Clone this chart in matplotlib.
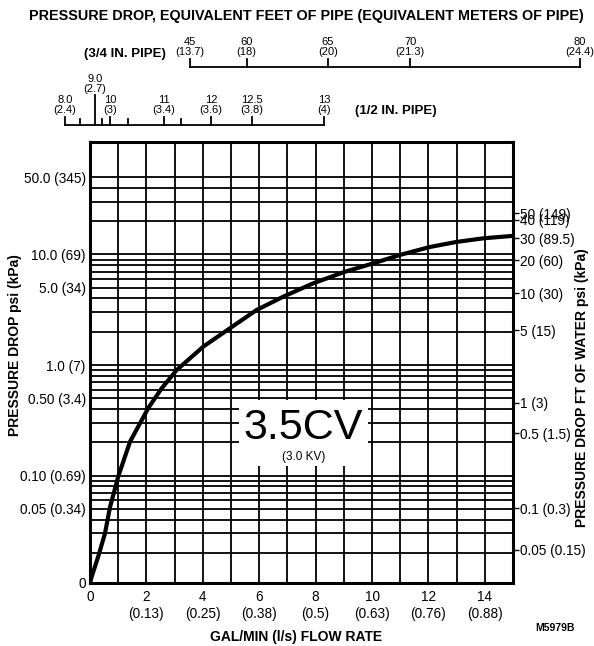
import matplotlib.pyplot as plt
from matplotlib.patches import Rectangle

plt.rcParams['font.family'] = ['Liberation Sans', 'DejaVu Sans']

# curve: flow (gpm) vs pressure drop (psi)
flow = [0, 0.06, 0.29, 0.53, 0.71, 1.0, 1.42, 2.07, 2.54, 3.07, 4.02, 4.96, 5.91,
        6.85, 7.92, 9.04, 10.05, 10.99, 12.06, 13.01, 13.95, 14.95]
dp = [0.0107, 0.0122, 0.0185, 0.030, 0.052, 0.098, 0.203, 0.41, 0.615, 0.90, 1.47,
      2.15, 3.15, 4.15, 5.49, 6.98, 8.32, 9.9, 11.7, 13.0, 14.0, 14.7]

# bottom axis
x_ticks = [0, 2, 4, 6, 8, 10, 12, 14]
x_labels = ['0', '2\n(0.13)', '4\n(0.25)', '6\n(0.38)', '8\n(0.5)', '10\n(0.63)',
            '12\n(0.76)', '14\n(0.88)']

# left axis (psi)
y_ticks = [0.0107, 0.05, 0.10, 0.50, 1.0, 5.0, 10.0, 50.0]
y_labels = ['0', '0.05 (0.34)', '0.10 (0.69)', '0.50 (3.4)', '1.0 (7)', '5.0 (34)',
            '10.0 (69)', '50.0 (345)']

# right axis: feet of water, placed at the psi level where they sit on the chart
ft_pos = [23.6, 20.5, 14.0, 8.91, 4.45, 2.07, 0.457, 0.241, 0.0507, 0.0213]
ft_labels = ['50 (149)', '40 (119)', '30 (89.5)', '20 (60)', '10 (30)', '5 (15)',
             '1 (3)', '0.5 (1.5)', '0.1 (0.3)', '0.05 (0.15)']

# horizontal grid levels (psi)
grid_psi = [0.02, 0.03, 0.04, 0.05, 0.06, 0.07, 0.08, 0.09,
            0.1, 0.2, 0.3, 0.4, 0.5, 0.6, 0.7, 0.8, 0.9,
            1, 2, 3, 4, 5, 6, 7, 8, 9,
            10, 20, 30, 40, 50]

# equivalent pipe scales, located on the flow axis (gpm)
pipe34_pos = [3.53, 5.55, 8.44, 11.35, 17.38]
pipe34_labels = ['45\n(13.7)', '60\n(18)', '65\n(20)', '70\n(21.3)', '80\n(24.4)']
pipe12_pos = [-0.89, 0.18, 0.71, 2.62, 4.29, 5.74, 8.30]
pipe12_labels = ['8.0\n(2.4)', '9.0\n(2.7)', '10\n(3)', '11\n(3.4)', '12\n(3.6)',
                 '12.5\n(3.8)', '13\n(4)']
pipe12_minor = [-0.35, 0.41, 1.35, 3.23]

fig = plt.figure(figsize=(5.94, 6.46), dpi=100)
ax = fig.add_axes([90/594, 63/646, 423/594, 441/646])
ax.set_yscale('log')
ax.set_xlim(0, 15)
ax.set_ylim(0.0107, 104)

for v in grid_psi:
    ax.axhline(v, color='black', lw=1.3, zorder=1)
for v in range(1, 15):
    ax.axvline(v, color='black', lw=1.3, zorder=1)

# white box for the Cv label
ax.add_patch(Rectangle((5.28, 0.123), 4.58, 0.48 - 0.123, facecolor='white',
                       edgecolor='none', zorder=2))
ax.text(7.57, 0.27, '3.5CV', fontsize=31, ha='center', va='center', zorder=4)
ax.text(7.57, 0.148, '(3.0 KV)', fontsize=8.5, ha='center', va='center', zorder=4)

ax.plot(flow, dp, color='black', lw=3, zorder=3, solid_capstyle='round')

for s in ax.spines.values():
    s.set_linewidth(2.2)

ax.set_xticks(x_ticks)
ax.set_xticklabels(x_labels, fontsize=9.8)
for t in ax.get_xticklabels():
    t.set_linespacing(1.3)
ax.tick_params(axis='x', length=0, pad=5)

ax.set_yticks(y_ticks)
ax.set_yticklabels(y_labels, fontsize=9.8)
ax.yaxis.set_minor_locator(plt.NullLocator())
ax.tick_params(axis='y', length=0, pad=3)

ax2 = ax.twinx()
ax2.set_yscale('log')
ax2.set_ylim(ax.get_ylim())
ax2.set_yticks(ft_pos)
ax2.set_yticklabels(ft_labels, fontsize=9.8)
ax2.yaxis.set_minor_locator(plt.NullLocator())
ax2.tick_params(axis='y', length=4, width=1, pad=1)
for s in ax2.spines.values():
    s.set_visible(False)

fig.text(296/594, 1 - 637/646, 'GAL/MIN (l/s) FLOW RATE', fontsize=10,
         fontweight='bold', ha='center', va='center')
fig.text(15/594, 1 - 345/646, 'PRESSURE DROP psi (kPa)', fontsize=10,
         fontweight='bold', ha='center', va='center', rotation=90)
fig.text(582/594, 1 - 388/646, 'PRESSURE DROP FT OF WATER psi (kPa)', fontsize=10,
         fontweight='bold', ha='center', va='center', rotation=90)
fig.text(555/594, 1 - 628/646, 'M5979B', fontsize=7.5, fontweight='bold',
         ha='center', va='center')
fig.text(306/594, 1 - 16/646, 'PRESSURE DROP, EQUIVALENT FEET OF PIPE (EQUIVALENT METERS OF PIPE)',
         fontsize=10.4, fontweight='bold', ha='center', va='center')

# top scales share the flow axis mapping, y in pixels from the figure top
top = fig.add_axes([90/594, 504/646, 423/594, 142/646])
top.set_xlim(0, 15)
top.set_ylim(142, 0)
top.axis('off')

y34 = 67
top.plot([pipe34_pos[0], pipe34_pos[-1]], [y34, y34], color='black', lw=1.3, clip_on=False)
for p, lab in zip(pipe34_pos, pipe34_labels):
    top.plot([p, p], [y34, y34 - 8], color='black', lw=1.3, clip_on=False)
    top.text(p, y34 - 10, lab, fontsize=8, ha='center', va='bottom', linespacing=1.0,
             clip_on=False)
top.text(pipe34_pos[0] - 0.85, y34 - 13, '(3/4 IN. PIPE)', fontsize=9.5, fontweight='bold',
         ha='right', va='center', clip_on=False)

y12 = 125
top.plot([pipe12_pos[0], pipe12_pos[-1]], [y12, y12], color='black', lw=1.3, clip_on=False)
for p, lab in zip(pipe12_pos, pipe12_labels):
    tall = lab.startswith('9.0')
    hi = 30 if tall else 8
    top.plot([p, p], [y12, y12 - hi], color='black', lw=1.3, clip_on=False)
    top.text(p, y12 - hi - (1 if tall else 2), lab, fontsize=8, ha='center',
             va='bottom', linespacing=1.0, clip_on=False)
for p in pipe12_minor:
    top.plot([p, p], [y12, y12 - 6], color='black', lw=1.3, clip_on=False)
top.text(pipe12_pos[-1] + 1.1, y12 - 14, '(1/2 IN. PIPE)', fontsize=9.5, fontweight='bold',
         ha='left', va='center', clip_on=False)

fig.savefig('out.png', dpi=100)
